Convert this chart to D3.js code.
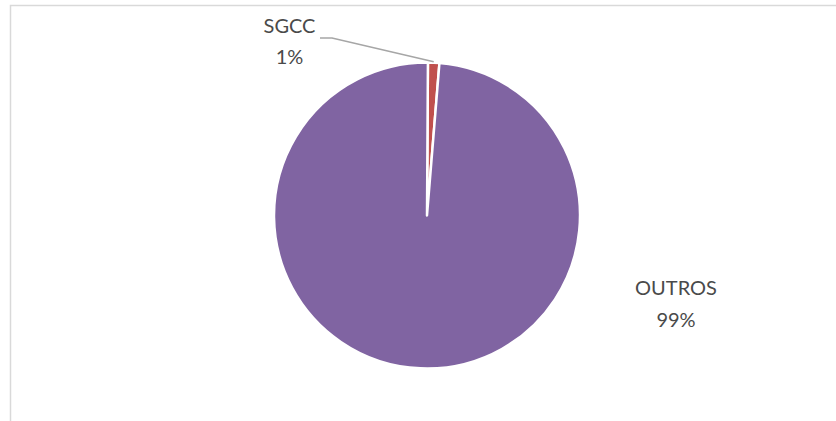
<!DOCTYPE html>
<html><head><meta charset="utf-8">
<script src="https://cdn.jsdelivr.net/npm/d3@7"></script>
<style>body{margin:0;background:#fff}svg{display:block}</style>
</head><body>
<svg id="c" width="836" height="421"></svg>
<script>
const categories = ["SGCC", "OUTROS"];
const values = [1.2, 98.8];
const percentLabels = ["1%", "99%"];
const colors = ["#C0504D", "#8064A2"];

const svg = d3.select("#c");
// chart frame border (partially visible)
svg.append("path").attr("d","M10.5,421 V5.5 H836").attr("fill","none").attr("stroke","#d9d9d9").attr("stroke-width",1.5);

const cx = 427, cy = 215.5, r = 153;
const pie = d3.pie().sort(null).value(d => d.v).startAngle(0.006).endAngle(2*Math.PI+0.006);
const data = pie(categories.map((c,i)=>({c, v: values[i], p: percentLabels[i], col: colors[i]})));
const arc = d3.arc().innerRadius(0).outerRadius(r);
const g = svg.append("g").attr("transform", `translate(${cx},${cy})`);
g.selectAll("path").data(data).join("path")
  .attr("d", arc).attr("fill", d => d.data.col)
  .attr("stroke", "#fff").attr("stroke-width", 2.5).attr("stroke-linejoin","round");

// SGCC label with leader line
const s = data[0];
const mid = (s.startAngle + s.endAngle)/2;
const px = Math.sin(mid)*(r+1), py = -Math.cos(mid)*(r+1);
svg.append("polyline")
  .attr("points", `${cx+px},${cy+py} ${332},${38} ${320},${38}`)
  .attr("fill","none").attr("stroke","#a6a6a6").attr("stroke-width",1.5);

const txt = svg.append("g").attr("font-family","Lato, 'Open Sans', sans-serif").attr("font-size",20).attr("fill","#4a4a4a").attr("text-anchor","middle");
function label(d, x, y){
  const t = txt.append("text").attr("x",x).attr("y",y);
  t.append("tspan").attr("x",x).text(d.data.c);
  t.append("tspan").attr("x",x).attr("dy",31.5).text(d.data.p);
}
label(data[0], 289.5, 32.5);
label(data[1], 676, 295);
</script>
</body></html>
